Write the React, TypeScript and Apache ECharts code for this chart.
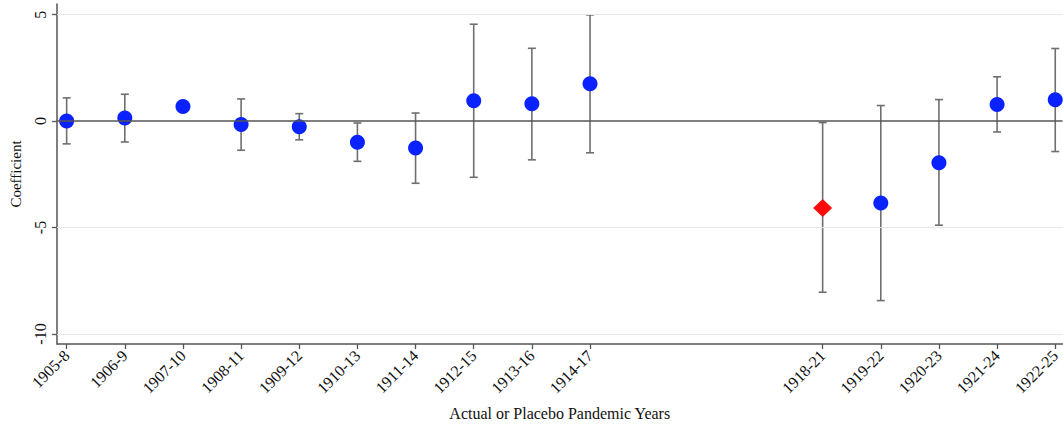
import React, { useEffect, useRef } from "react";
import * as echarts from "echarts";

const periods = [
  "1905-8", "1906-9", "1907-10", "1908-11", "1909-12", "1910-13", "1911-14",
  "1912-15", "1913-16", "1914-17", "1915-18", "1916-19", "1917-20",
  "1918-21", "1919-22", "1920-23", "1921-24", "1922-25",
];
const coef = [0.0, 0.15, 0.68, -0.16, -0.27, -0.99, -1.26, 0.96, 0.81, 1.75, null, null, null, -4.08, -3.85, -1.96, 0.78, 1.0];
const lower = [-1.07, -0.98, null, -1.37, -0.88, -1.89, -2.92, -2.64, -1.82, -1.49, null, null, null, -8.04, -8.43, -4.89, -0.51, -1.43];
const upper = [1.09, 1.26, null, 1.04, 0.35, -0.09, 0.38, 4.55, 3.42, 4.99, null, null, null, -0.07, 0.73, 1.01, 2.08, 3.41];
const actualPandemic = "1918-21";
const yTicks = [-10, -5, 0, 5];
const gridValues = [-10, -5, 5];

const FONT = "'Liberation Serif', 'Times New Roman', serif";

export default function App() {
  const ref = useRef<HTMLDivElement>(null);
  useEffect(() => {
    if (!ref.current) return;
    const chart = echarts.init(ref.current, null, { renderer: "svg" });
    const shown = periods.map((_, i) => i).filter((i) => coef[i] !== null);
    const actualIdx = periods.indexOf(actualPandemic);
    const placebo = shown.filter((i) => i !== actualIdx).map((i) => [i, coef[i]]);
    const actual = [[actualIdx, coef[actualIdx]]];
    const bars = shown
      .filter((i) => lower[i] !== null && upper[i] !== null)
      .map((i) => [i, lower[i], upper[i]]);

    chart.setOption({
      animation: false,
      backgroundColor: "#ffffff",
      grid: { left: 53, right: 0, top: 4, bottom: 82 },
      xAxis: {
        type: "value",
        min: -0.166,
        max: 17.125,
        name: "Actual or Placebo Pandemic Years",
        nameLocation: "middle",
        nameGap: 61,
        nameTextStyle: { fontFamily: FONT, fontSize: 16, color: "#111" },
        axisLine: { show: true, onZero: false, lineStyle: { color: "#555", width: 1.5 } },
        axisTick: { show: true, customValues: shown, length: 5, lineStyle: { color: "#555", width: 1.3 } },
        axisLabel: {
          customValues: shown,
          rotate: 45,
          margin: 9,
          fontFamily: FONT,
          fontSize: 16,
          color: "#111",
          formatter: (v: number) => periods[Math.round(v)] ?? "",
        },
        splitLine: { show: false },
      },
      yAxis: {
        type: "value",
        min: -10.47,
        max: 5.5,
        name: "Coefficient",
        nameLocation: "middle",
        nameGap: 34,
        nameTextStyle: { fontFamily: FONT, fontSize: 15, color: "#111" },
        axisLine: { show: true, onZero: false, lineStyle: { color: "#555", width: 1.5 } },
        axisTick: { show: true, customValues: yTicks, length: 5, lineStyle: { color: "#555", width: 1.3 } },
        axisLabel: {
          customValues: yTicks,
          rotate: 90,
          margin: 9,
          fontFamily: FONT,
          fontSize: 16,
          color: "#111",
        },
        splitLine: { show: false },
      },
      series: [
        {
          type: "line",
          data: [],
          silent: true,
          markLine: {
            silent: true,
            symbol: "none",
            label: { show: false },
            data: gridValues.map((v) => ({ yAxis: v, lineStyle: { color: "#e6e6e6", width: 1, type: "solid" } })).concat([
              { yAxis: 0, lineStyle: { color: "#555", width: 1.5, type: "solid" } } as any,
            ]),
          },
          z: 1,
        },
        {
          type: "custom",
          data: bars,
          z: 2,
          renderItem: (params: any, api: any) => {
            const x = api.value(0);
            const lo = api.coord([x, api.value(1)]);
            const hi = api.coord([x, api.value(2)]);
            const half = 4;
            const style = { stroke: "#6f6f6f", lineWidth: 1.6 };
            return {
              type: "group",
              children: [
                { type: "line", shape: { x1: lo[0], y1: lo[1], x2: hi[0], y2: hi[1] }, style },
                { type: "line", shape: { x1: hi[0] - half, y1: hi[1], x2: hi[0] + half, y2: hi[1] }, style },
                { type: "line", shape: { x1: lo[0] - half, y1: lo[1], x2: lo[0] + half, y2: lo[1] }, style },
              ],
            };
          },
        },
        {
          type: "scatter",
          data: placebo,
          symbol: "circle",
          symbolSize: 15,
          itemStyle: { color: "#0a22ff", opacity: 1 },
          z: 3,
        },
        {
          type: "scatter",
          data: actual,
          symbol: "diamond",
          symbolSize: [19, 18],
          itemStyle: { color: "#ff0a0a", opacity: 1 },
          z: 3,
        },
      ],
    });
    return () => chart.dispose();
  }, []);
  return (
    <div
      ref={ref}
      style={{ position: "fixed", left: 0, top: 0, width: 1063, height: 426, background: "#fff" }}
    />
  );
}
